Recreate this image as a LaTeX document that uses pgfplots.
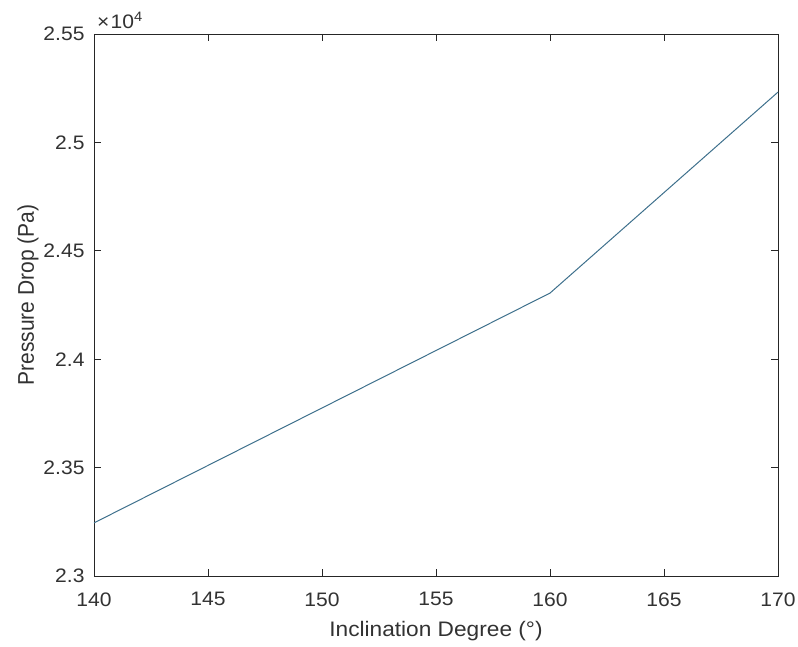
\documentclass[border=0pt]{standalone}
\usepackage{fontspec}
\setmainfont{Liberation Sans}
\usepackage{graphicx}
\usepackage{pgfplots}
\pgfplotsset{compat=1.18}
\definecolor{linec}{RGB}{62,112,140}
\definecolor{axc}{RGB}{38,38,38}
\definecolor{txtc}{RGB}{50,50,50}
% text is drawn slightly wider than tall
\newcommand{\hw}[1]{\scalebox{1.08}[1]{#1}}
\newcommand{\vw}[1]{\scalebox{1}[1.08]{#1}}
\begin{document}
\begin{tikzpicture}
\useasboundingbox (-94bp,-71bp) rectangle (704bp,576bp);
\begin{axis}[
  at={(0,0)}, anchor=south west,
  width=684bp, height=542bp, scale only axis,
  xmin=140, xmax=170, ymin=23000, ymax=25500,
  xtick={140,145,...,170},
  xticklabels={\hw{140},\hw{145},\hw{150},\hw{155},\hw{160},\hw{165},\hw{170}},
  ytick={23000,23500,24000,24500,25000,25500},
  yticklabels={\hw{2.3},\hw{2.35},\hw{2.4},\hw{2.45},\hw{2.5},\hw{2.55}},
  scaled y ticks=false,
  /pgf/number format/assume math mode=true,
  tick label style={font=\fontsize{19.5bp}{23bp}\selectfont, text=txtc},
  xticklabel style={yshift=-13bp},
  yticklabel style={xshift=-6bp},
  label style={font=\fontsize{21bp}{25bp}\selectfont, text=txtc},
  xlabel={\hw{Inclination Degree (°)}},
  ylabel={\vw{Pressure Drop (Pa)}},
  xlabel style={yshift=-8bp},
  ylabel style={yshift=-2bp, xshift=10bp},
  axis line style={axc, line width=0.8bp},
  tick style={axc, line width=0.8bp},
  tick align=inside,
  major tick length=7bp,
  xtick pos=both, ytick pos=both,
  clip=false,
]
\addplot[linec, line width=1bp] coordinates {
  (140,23245) (160,24305) (170,25232)
};
\node[anchor=base west, inner sep=0pt, xshift=3bp, yshift=5bp, text=txtc, font=\fontsize{19.5bp}{23bp}\selectfont]
  at (rel axis cs:0,1) {\hw{×\kern1bp 10\textsuperscript{4}}};
\end{axis}
\end{tikzpicture}
\end{document}
